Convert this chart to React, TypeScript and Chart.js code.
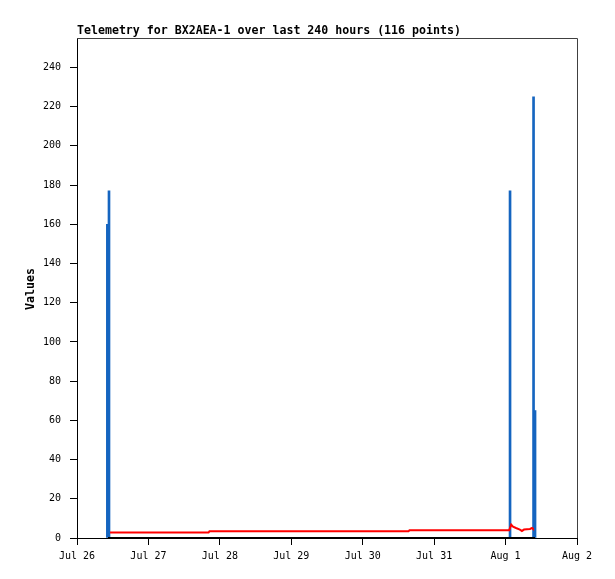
import React, { useEffect, useRef } from "react";
import { Chart, registerables } from "chart.js";

Chart.register(...registerables);

// Hours since Jul 26 00:00
const xTickLabels = ["Jul 26", "Jul 27", "Jul 28", "Jul 29", "Jul 30", "Jul 31", "Aug 1", "Aug 2"];
const yTicksMax = 255;

// Blue impulses
const blueTimes = [10.2, 10.75, 145.5, 153.4, 153.9];
const blueValues = [160, 177, 177, 225, 65];

// Red telemetry line
const redTimes = [11.1, 20, 30, 40, 44.2, 44.5, 60, 80, 100, 111.4, 111.7, 125, 140, 145.2, 145.9, 146.5, 147.5, 148.8, 149.5, 150.2, 151.2, 152.2, 152.9, 153.2];
const redValues = [2.8, 2.8, 2.8, 2.8, 2.8, 3.4, 3.4, 3.4, 3.4, 3.4, 3.9, 3.9, 3.9, 3.9, 6.8, 5.8, 5.1, 4.3, 3.6, 4.3, 4.5, 4.6, 5.1, 4.7];

// Black zero line
const blackTimes = [10.4, 40, 80, 120, 153.9];
const blackValues = [0, 0, 0, 0, 0];

const TITLE = "Telemetry for BX2AEA-1 over last 240 hours (116 points)";
const Y_LABEL = "Values";

export default function App() {
  const ref = useRef<HTMLCanvasElement | null>(null);

  useEffect(() => {
    if (!ref.current) return;
    const textPlugin = {
      id: "textPlugin",
      afterDraw(chart: any) {
        const { ctx, chartArea } = chart;
        ctx.save();
        ctx.strokeStyle = "#404040";
        ctx.lineWidth = 1;
        ctx.beginPath();
        ctx.moveTo(chartArea.left, chartArea.top + 0.5);
        ctx.lineTo(chartArea.right + 0.5, chartArea.top + 0.5);
        ctx.lineTo(chartArea.right + 0.5, chartArea.bottom);
        ctx.stroke();
        ctx.fillStyle = "#000";
        ctx.font = "bold 11.6px 'DejaVu Sans Mono'";
        ctx.textAlign = "left";
        ctx.textBaseline = "alphabetic";
        ctx.fillText(TITLE, chartArea.left, 34);
        ctx.translate(31, 289);
        ctx.rotate(-Math.PI / 2);
        ctx.textAlign = "center";
        ctx.textBaseline = "middle";
        ctx.font = "bold 11.6px 'DejaVu Sans Mono'";
        ctx.fillText(Y_LABEL, 0, 0);
        ctx.restore();
      },
    };

    const tickFont = { family: "'DejaVu Sans Mono'", size: 10 };

    const chart = new Chart(ref.current, {
      type: "line",
      data: {
        datasets: [
          {
            type: "bar",
            data: blueTimes.map((t, i) => ({ x: t, y: blueValues[i] })),
            backgroundColor: "#1565C0",
            borderWidth: 0,
            barThickness: 2,
            order: 2,
          } as any,
          {
            type: "line",
            data: redTimes.map((t, i) => ({ x: t, y: redValues[i] })),
            borderColor: "#ff0000",
            borderWidth: 2,
            pointRadius: 0,
            tension: 0,
            order: 1,
          },
          {
            type: "line",
            data: blackTimes.map((t, i) => ({ x: t, y: blackValues[i] })),
            borderColor: "#000000",
            borderWidth: 2,
            pointRadius: 0,
            tension: 0,
            order: 0,
            clip: false as any,
          },
        ],
      },
      options: {
        responsive: false,
        animation: false,
        devicePixelRatio: 1,
        layout: { padding: { top: 38, right: 38, left: 0, bottom: 0 } },
        plugins: {
          legend: { display: false },
          title: { display: false },
          tooltip: { enabled: false },
        },
        scales: {
          x: {
            type: "linear",
            min: 0,
            max: 168,
            offset: false,
            grid: { display: true, drawOnChartArea: false, drawTicks: true, tickLength: 7, color: "#000", offset: false },
            border: { display: true, color: "#000", width: 1 },
            ticks: {
              stepSize: 24,
              autoSkip: false,
              maxRotation: 0,
              padding: 5,
              color: "#000",
              font: tickFont,
              callback: (v: any) => xTickLabels[Math.round(Number(v) / 24)] ?? "",
            },
            afterFit: (s: any) => { s.height = 41; },
          },
          y: {
            type: "linear",
            min: 0,
            max: yTicksMax,
            grid: { display: true, drawOnChartArea: false, drawTicks: true, tickLength: 7, color: "#000" },
            border: { display: true, color: "#000", width: 1 },
            ticks: {
              stepSize: 20,
              includeBounds: false,
              autoSkip: false,
              padding: 9,
              color: "#000",
              font: tickFont,
            },
            afterFit: (s: any) => { s.width = 77; },
          },
        },
      },
      plugins: [textPlugin],
    });
    return () => chart.destroy();
  }, []);

  return (
    <div style={{ position: "absolute", left: 0, top: 0, width: 615, height: 579, background: "#fff" }}>
      <canvas ref={ref} width={615} height={579} style={{ width: 615, height: 579 }} />
    </div>
  );
}
